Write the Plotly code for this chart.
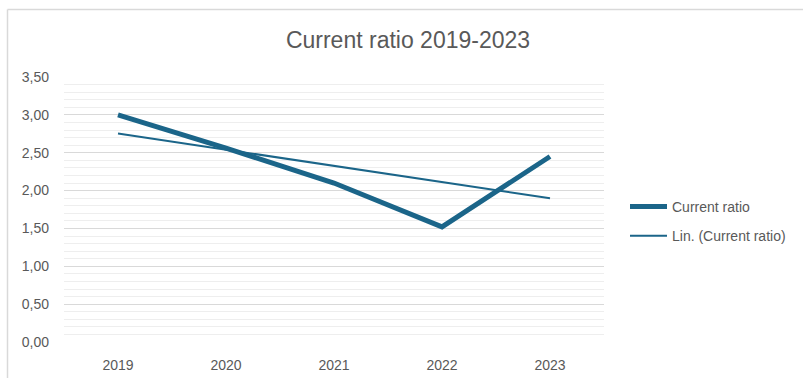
import numpy as np
import plotly.graph_objects as go

years = ["2019", "2020", "2021", "2022", "2023"]
current_ratio = [3.00, 2.56, 2.10, 1.52, 2.45]

# Linear trendline (as Excel's "Lin." trendline) computed from the data
idx = np.arange(len(current_ratio))
slope, intercept = np.polyfit(idx, current_ratio, 1)
trend = list(slope * idx + intercept)

color = "#1b6589"
font_family = "'Liberation Sans', Arial, sans-serif"
text_color = "#595959"

W, H = 803, 378
L, R, T, B = 64, 199, 77, 36
pw, ph = W - L - R, H - T - B

def px_x(x):
    return (x - L) / pw

def px_y(y):
    return (H - B - y) / ph

fig = go.Figure()
fig.add_trace(go.Scatter(
    x=years, y=current_ratio, mode="lines", name="Current ratio",
    line=dict(color=color, width=5), legendgroup="a",
))
fig.add_trace(go.Scatter(
    x=years, y=trend, mode="lines", name="Lin. (Current ratio)",
    line=dict(color=color, width=2), legendgroup="b",
))

fig.update_layout(
    width=W, height=H,
    margin=dict(l=L, r=R, t=T, b=B, autoexpand=False),
    paper_bgcolor="white", plot_bgcolor="white",
    separators=",.",
    font=dict(family=font_family, color=text_color, size=14),
    title=dict(text="Current ratio 2019-2023", x=408 / W,
               xanchor="center", y=1 - 40 / H, yanchor="middle",
               xref="container", yref="container",
               font=dict(size=23, color=text_color, family=font_family)),
    showlegend=True,
    legend=dict(x=px_x(625), y=px_y(191), xanchor="left", yanchor="top",
                xref="paper", yref="paper", traceorder="grouped",
                tracegroupgap=8, itemwidth=37,
                font=dict(size=14, color=text_color, family=font_family),
                bgcolor="rgba(0,0,0,0)"),
    xaxis=dict(type="category", range=[-0.5, 4.5], showgrid=False, showline=False,
               zeroline=False, ticks="", tickfont=dict(size=14, color=text_color),
               ticklabelstandoff=13, automargin=False),
    yaxis=dict(range=[0, 3.5], dtick=0.5, tickformat=".2f", showline=False,
               zeroline=False, gridcolor="#d9d9d9", gridwidth=1.3,
               minor=dict(dtick=0.1, showgrid=True, gridcolor="#eeeeee", gridwidth=1),
               tickfont=dict(size=14, color=text_color), ticklabelstandoff=14,
               automargin=False),
    shapes=[
        dict(type="line", xref="paper", yref="paper",
             x0=px_x(7.5), x1=px_x(7.5), y0=px_y(9.5), y1=px_y(400),
             line=dict(color="#d9d9d9", width=1.5)),
        dict(type="line", xref="paper", yref="paper",
             x0=px_x(7.5), x1=px_x(820), y0=px_y(9.5), y1=px_y(9.5),
             line=dict(color="#d9d9d9", width=1.5)),
    ],
)

fig.write_html("out.html")
